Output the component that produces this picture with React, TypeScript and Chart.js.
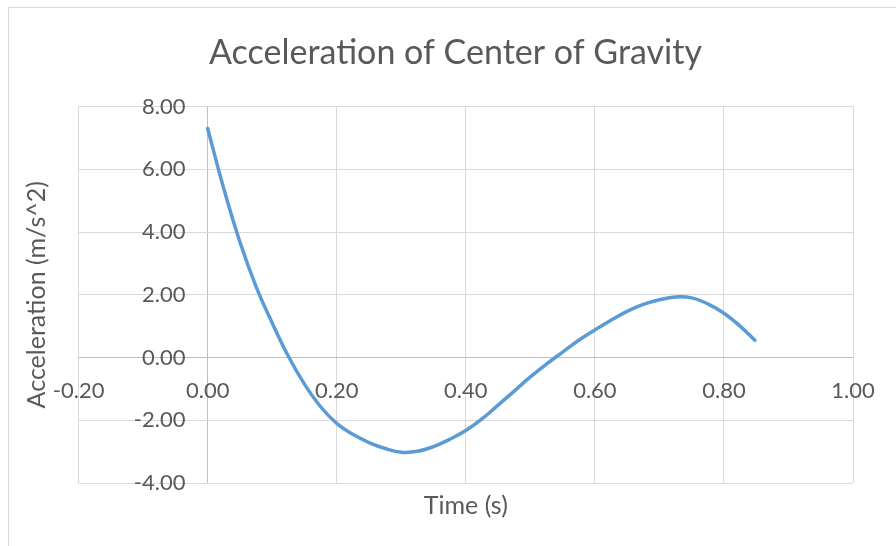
import { useEffect, useRef } from "react";
import { Chart, registerables } from "chart.js";

Chart.register(...registerables);

// Time samples (s) and centre-of-gravity acceleration (m/s^2)
const timeS = [
  0, 0.025, 0.05, 0.075, 0.1, 0.125, 0.15, 0.175, 0.2, 0.225, 0.25, 0.275,
  0.3, 0.325, 0.35, 0.375, 0.4, 0.425, 0.45, 0.475, 0.5, 0.525, 0.55, 0.575,
  0.6, 0.625, 0.65, 0.675, 0.7, 0.725, 0.75, 0.775, 0.8, 0.825, 0.848,
];
const accel = [
  7.3, 5.38, 3.68, 2.26, 1.1, 0.04, -0.85, -1.57, -2.1, -2.45, -2.71, -2.9,
  -3.02, -2.99, -2.84, -2.61, -2.33, -1.96, -1.52, -1.07, -0.62, -0.21, 0.17, 0.55,
  0.88, 1.19, 1.47, 1.69, 1.84, 1.93, 1.9, 1.71, 1.41, 1.0, 0.55,
];

const xTickValues = [-0.2, 0, 0.2, 0.4, 0.6, 0.8, 1.0];
const yTickValues = [-4, -2, 0, 2, 4, 6, 8];

const chartTitle = "Acceleration of Center of Gravity";
const xTitle = "Time (s)";
const yTitle = "Acceleration (m/s^2)";

const FONT = "Lato";
const TEXT = "#595959";
const GRID = "#d9d9d9";
const AXIS = "#bfbfbf";
const LINE = "#5b9bd5";

const frameAndTitles = {
  id: "frameAndTitles",
  beforeDraw(chart: any) {
    const { ctx } = chart;
    ctx.save();
    ctx.strokeStyle = GRID;
    ctx.lineWidth = 1;
    ctx.strokeRect(8.5, 7.5, 1000, 1000);
    ctx.restore();
  },
  afterDraw(chart: any) {
    const { ctx, chartArea } = chart;
    ctx.save();
    ctx.fillStyle = TEXT;
    ctx.textAlign = "center";
    ctx.textBaseline = "middle";
    ctx.font = `34px ${FONT}`;
    ctx.fillText(chartTitle, 455.5, 53);
    ctx.font = `25px ${FONT}`;
    const cx = (chartArea.left + chartArea.right) / 2;
    ctx.fillText(xTitle, cx, 505.5);
    ctx.translate(36.5, (chartArea.top + chartArea.bottom) / 2);
    ctx.rotate(-Math.PI / 2);
    ctx.fillText(yTitle, 0, 0);
    ctx.restore();
  },
};

const isZero = (v: number) => Math.abs(v) < 1e-9;

export default function App() {
  const canvasRef = useRef<HTMLCanvasElement | null>(null);

  useEffect(() => {
    const canvas = canvasRef.current;
    if (!canvas) return;
    const chart = new Chart(canvas, {
      type: "scatter",
      data: {
        datasets: [
          {
            data: timeS.map((t, i) => ({ x: t, y: accel[i] })),
            showLine: true,
            borderColor: LINE,
            backgroundColor: LINE,
            borderWidth: 3.5,
            borderCapStyle: "round",
            borderJoinStyle: "round",
            pointRadius: 0,
            pointHoverRadius: 0,
            tension: 0.4,
          },
        ],
      },
      options: {
        responsive: false,
        devicePixelRatio: 1,
        animation: false,
        events: [],
        layout: { padding: { left: 78.6, right: 43, top: 106.5, bottom: 63 } },
        plugins: {
          legend: { display: false },
          title: { display: false },
          tooltip: { enabled: false },
        },
        scales: {
          x: {
            type: "linear",
            position: { y: 0 },
            min: -0.2,
            max: 1.0,
            afterBuildTicks: (scale: any) => {
              scale.ticks = xTickValues.map((v) => ({ value: v }));
            },
            afterFit: (scale: any) => {
              scale.height = 0;
            },
            grid: {
              drawTicks: false,
              color: (c: any) => (c.tick && isZero(c.tick.value) ? AXIS : GRID),
              lineWidth: 1,
            },
            border: { display: false },
            ticks: {
              padding: 20,
              maxRotation: 0,
              autoSkip: false,
              color: TEXT,
              font: { family: FONT, size: 22 },
              callback: (v: any) => Number(v).toFixed(2),
            },
          },
          y: {
            type: "linear",
            // labels sit just left of the vertical zero axis
            position: { x: -0.0344 },
            min: -4,
            max: 8,
            afterBuildTicks: (scale: any) => {
              scale.ticks = yTickValues.map((v) => ({ value: v }));
            },
            afterFit: (scale: any) => {
              scale.width = 0;
            },
            grid: {
              drawTicks: false,
              color: (c: any) => (c.tick && isZero(c.tick.value) ? AXIS : GRID),
              lineWidth: 1,
            },
            border: { display: false },
            ticks: {
              autoSkip: false,
              color: TEXT,
              font: { family: FONT, size: 22 },
              callback: (v: any) => Number(v).toFixed(2),
            },
          },
        },
      },
      plugins: [frameAndTitles],
    } as any);
    return () => chart.destroy();
  }, []);

  return (
    <div style={{ position: "fixed", left: 0, top: 0, width: 896, height: 546, background: "#ffffff" }}>
      <canvas ref={canvasRef} width={896} height={546} style={{ display: "block", width: 896, height: 546 }} />
    </div>
  );
}
